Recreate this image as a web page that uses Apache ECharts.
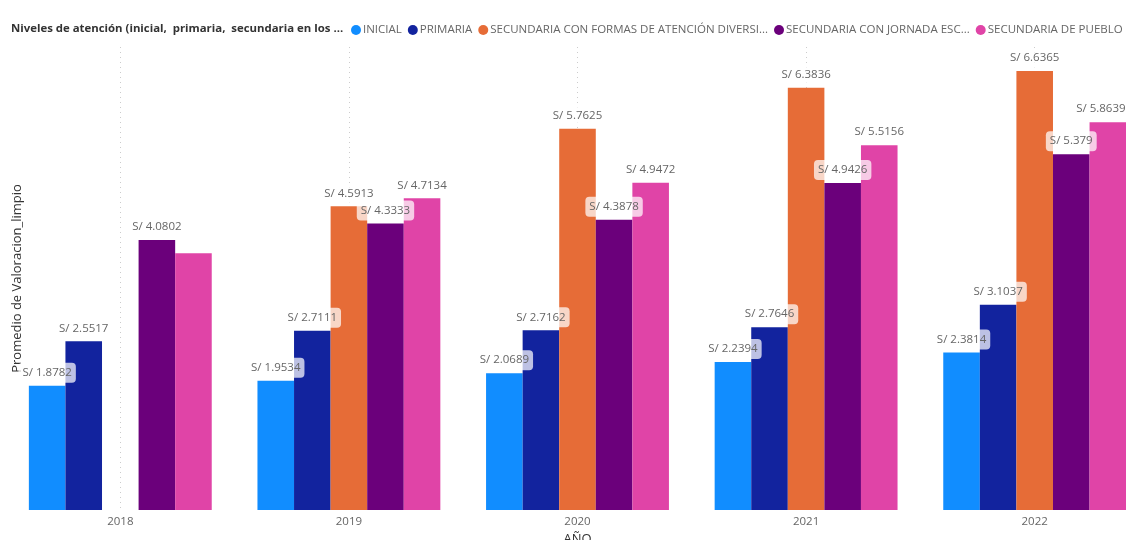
<!DOCTYPE html>
<html>
<head>
<meta charset="utf-8">
<script src="https://cdn.jsdelivr.net/npm/echarts@6/dist/echarts.min.js"></script>
<style>
  html, body { margin: 0; padding: 0; background: #fff; }
  #chart { width: 1126px; height: 540px; }
</style>
</head>
<body>
<div id="chart"></div>
<script>
// años
const years = ['2018', '2019', '2020', '2021', '2022']
// nombres de los niveles (series)
const levels = [
  'INICIAL',
  'PRIMARIA',
  'SECUNDARIA CON FORMAS DE ATENCIÓN DIVERSIFICADA',
  'SECUNDARIA CON JORNADA ESCOLAR COMPLETA',
  'SECUNDARIA DE PUEBLO'
]
// nombres como se ven recortados en la leyenda
const legendNames = [
  'INICIAL',
  'PRIMARIA',
  'SECUNDARIA CON FORMAS DE ATENCIÓN DIVERSI...',
  'SECUNDARIA CON JORNADA ESC...',
  'SECUNDARIA DE PUEBLO'
]
const colors = ['#118DFF', '#12239E', '#E66C37', '#6B007B', '#E044A7']

// promedio de valoración por nivel
const inicial = [1.8782, 1.9534, 2.0689, 2.2394, 2.3814]
const primaria = [2.5517, 2.7111, 2.7162, 2.7646, 3.1037]
const formasDiversificada = [null, 4.5913, 5.7625, 6.3836, 6.6365]
const jornadaCompleta = [4.0802, 4.3333, 4.3878, 4.9426, 5.379]
const pueblo = [3.88, 4.7134, 4.9472, 5.5156, 5.8639]
const allValues = [inicial, primaria, formasDiversificada, jornadaCompleta, pueblo]

// etiqueta oculta (se superpone con otra): [serie, año]
const hiddenLabels = [[4, 0]]
// etiqueta corrida a la izquierda para que entre en el borde: [serie, año]
const shiftedLabels = [[4, 4]]

const chart = echarts.init(document.getElementById('chart'))

const font = '"Open Sans", "Segoe UI", sans-serif'

const series = levels.map((name, i) => ({
  name: name,
  type: 'bar',
  barGap: 0,
  barCategoryGap: '20%',
  itemStyle: { color: colors[i] },
  label: {
    show: true,
    position: 'top',
    distance: 3,
    formatter: p => 'S/ ' + p.value,
    color: '#666',
    fontFamily: font,
    fontSize: 11.5,
    lineHeight: 16,
    padding: [2, 4],
    borderRadius: 4,
    backgroundColor: 'rgba(255,255,255,0.72)'
  },
  data: allValues[i].map((v, j) => {
    const hide = hiddenLabels.some(h => h[0] === i && h[1] === j)
    const shift = shiftedLabels.some(h => h[0] === i && h[1] === j)
    if (hide) return { value: v, label: { show: false } }
    if (shift) return { value: v, label: { offset: [-7, 0] } }
    return v
  })
}))

const option = {
  animation: false,
  color: colors,
  title: {
    text: 'Niveles de atención (inicial,  primaria,  secundaria en los ...',
    left: 6,
    top: 18,
    textStyle: {
      fontFamily: font,
      fontSize: 11.4,
      fontWeight: 'bold',
      color: '#333'
    }
  },
  legend: {
    left: 346,
    top: 19,
    width: 820,
    icon: 'circle',
    itemWidth: 10,
    itemHeight: 10,
    itemGap: 6,
    formatter: name => legendNames[levels.indexOf(name)],
    textStyle: {
      fontFamily: font,
      fontSize: 11.5,
      color: '#666',
      padding: [0, 0, 0, -3]
    },
    data: levels
  },
  grid: {
    left: 6,
    top: 47,
    width: 1143,
    height: 463,
    outerBoundsMode: 'none'
  },
  xAxis: {
    type: 'category',
    data: years,
    name: 'AÑO',
    nameLocation: 'middle',
    nameGap: 23,
    nameTextStyle: { fontFamily: font, fontSize: 13, color: '#333' },
    axisLine: { show: false },
    axisTick: { show: false },
    axisLabel: { fontFamily: font, fontSize: 11.5, color: '#666', margin: 6 },
    splitLine: {
      show: true,
      alignWithLabel: true,
      lineStyle: { color: '#ccc', type: [1, 4], width: 1 }
    }
  },
  yAxis: {
    type: 'value',
    min: 0,
    max: 7,
    name: 'Promedio de Valoracion_limpio',
    nameLocation: 'middle',
    nameRotate: 90,
    nameGap: -18,
    nameTextStyle: { fontFamily: font, fontSize: 13, color: '#333' },
    axisLine: { show: false },
    axisTick: { show: false },
    axisLabel: { show: false },
    splitLine: { show: false }
  },
  series: series
}

chart.setOption(option)
</script>
</body>
</html>
